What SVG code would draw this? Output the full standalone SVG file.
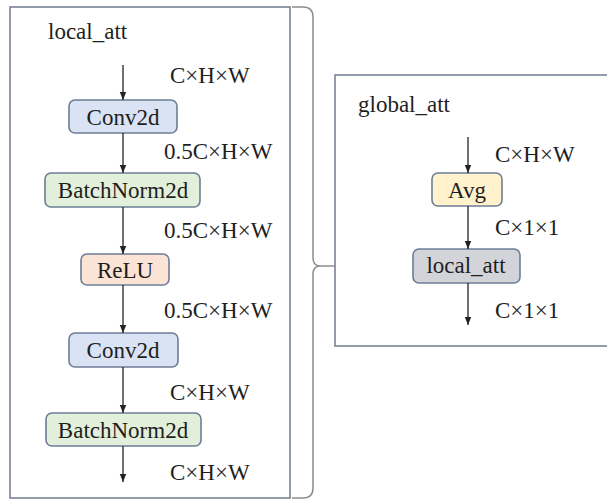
<svg xmlns="http://www.w3.org/2000/svg" width="607" height="502" viewBox="0 0 607 502">
  <defs>
    <marker id="arrow" viewBox="0 0 8 8" refX="8" refY="4" markerWidth="8" markerHeight="8" markerUnits="userSpaceOnUse" orient="auto">
      <path d="M0,0.8 L8,4 L0,7.2 Z" fill="#222"/>
    </marker>
    <style>
      text { font-family: "Liberation Serif", "Times New Roman", serif; font-size: 23px; fill: #1e1e1e; }
      .frame { fill: #ffffff; stroke: #6d7b8e; stroke-width: 1.5; }
      .node { stroke: #6d7d96; stroke-width: 1.6; }
      .conv { fill: #dae3f3; }
      .bn { fill: #e2efda; }
      .relu { fill: #fbe3d6; }
      .avg { fill: #fff2cc; }
      .inner { fill: #d3d4da; }
      .mid { text-anchor: middle; }
      .edge { stroke: #222; stroke-width: 1.3; fill: none; marker-end: url(#arrow); }
      .brace { stroke: #8c8c8c; stroke-width: 1.5; fill: none; }
    </style>
  </defs>

  <rect width="607" height="502" fill="#ffffff"/>

  <!-- outer frames -->
  <g id="local-frame">
    <rect class="frame" x="10" y="7" width="280" height="491"/>
    <text x="48" y="39">local_att</text>
  </g>
  <g id="global-frame">
    <rect class="frame" x="335" y="75" width="280" height="271"/>
    <text x="358" y="112">global_att</text>
  </g>

  <!-- brace joining the local branch to the global branch -->
  <path class="brace" d="M292,7 L303,7 Q313,7 313,17 L313,258 Q313,265 319,266 Q313,267 313,274 L313,488 Q313,498 303,498 L292,498"/>
  <path class="brace" d="M318,266 L335,266"/>

  <!-- local_att nodes -->
  <g id="conv1">
    <rect class="node conv" x="69" y="100" width="108" height="33" rx="6"/>
    <text class="mid" x="123" y="124.5">Conv2d</text>
  </g>
  <g id="bn1">
    <rect class="node bn" x="45" y="173" width="155" height="34" rx="6"/>
    <text class="mid" x="123" y="198">BatchNorm2d</text>
  </g>
  <g id="relu">
    <rect class="node relu" x="81" y="254" width="88" height="31" rx="6"/>
    <text class="mid" x="125" y="278">ReLU</text>
  </g>
  <g id="conv2">
    <rect class="node conv" x="69" y="333" width="109" height="34" rx="6"/>
    <text class="mid" x="123" y="358">Conv2d</text>
  </g>
  <g id="bn2">
    <rect class="node bn" x="46" y="413" width="155" height="33" rx="6"/>
    <text class="mid" x="123" y="437.5">BatchNorm2d</text>
  </g>

  <!-- global_att nodes -->
  <g id="avg">
    <rect class="node avg" x="432" y="173" width="70" height="33" rx="6"/>
    <text class="mid" x="467" y="197.5">Avg</text>
  </g>
  <g id="local-att-node">
    <rect class="node inner" x="413" y="249" width="107" height="34" rx="6"/>
    <text class="mid" x="466" y="273">local_att</text>
  </g>

  <!-- connectors -->
  <g id="connectors">
    <line class="edge" x1="123" y1="65" x2="123" y2="100"/>
    <line class="edge" x1="123" y1="133" x2="123" y2="173"/>
    <line class="edge" x1="123" y1="207" x2="123" y2="254"/>
    <line class="edge" x1="123" y1="285" x2="123" y2="333"/>
    <line class="edge" x1="123" y1="367" x2="123" y2="413"/>
    <line class="edge" x1="123" y1="446" x2="123" y2="482"/>
    <line class="edge" x1="468" y1="137" x2="468" y2="173"/>
    <line class="edge" x1="468" y1="206" x2="468" y2="249"/>
    <line class="edge" x1="468" y1="283" x2="468" y2="325"/>
  </g>

  <!-- tensor shape labels -->
  <g id="shape-labels">
    <text x="170" y="83">C×H×W</text>
    <text x="164" y="159">0.5C×H×W</text>
    <text x="164" y="238">0.5C×H×W</text>
    <text x="164" y="318">0.5C×H×W</text>
    <text x="170" y="400">C×H×W</text>
    <text x="170" y="480">C×H×W</text>
    <text x="495" y="162">C×H×W</text>
    <text x="495" y="235">C×1×1</text>
    <text x="495" y="318">C×1×1</text>
  </g>
</svg>
